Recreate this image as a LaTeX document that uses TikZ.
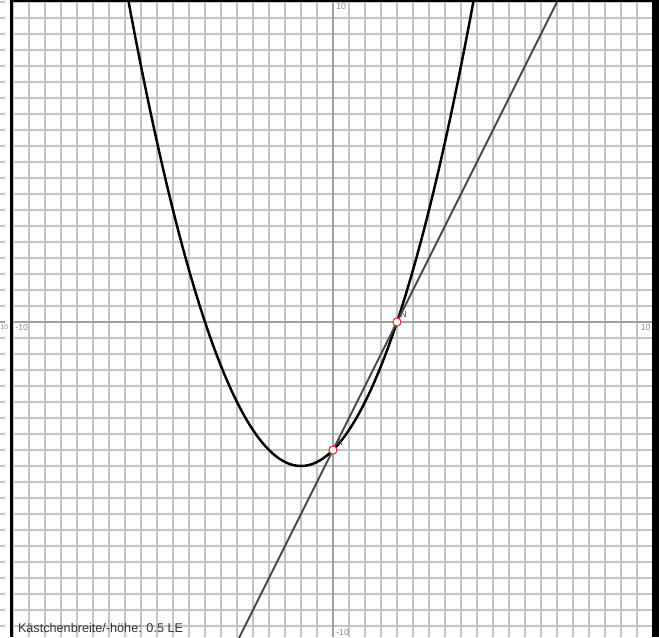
\documentclass[tikz,border=0pt]{standalone}
\usepackage{fontspec}
\setmainfont{Liberation Sans}
\usetikzlibrary{calc}
\definecolor{GridLine}{RGB}{196,196,196}
\definecolor{AxisLine}{RGB}{160,160,160}
\definecolor{TickText}{RGB}{140,140,140}
\definecolor{SecLine}{RGB}{70,70,70}
\definecolor{NoteText}{RGB}{50,50,50}
\definecolor{PtLine}{RGB}{228,60,60}
\tikzset{
  gridln/.style={draw=GridLine, line width=1.35pt},
  axisln/.style={draw=AxisLine, line width=1.35pt},
  ticklbl/.style={font=\fontsize{7.5}{8}\selectfont, text=TickText, inner sep=1pt},
  notelbl/.style={font=\fontsize{10.8}{12}\selectfont, text=NoteText, inner sep=0pt},
  parab/.style={line width=2.1pt, black},
  secant/.style={line width=1.6pt, draw=SecLine},
  ptmark/.style={circle, draw=PtLine, fill=white, line width=0.9pt,
    minimum size=6.8pt, inner sep=0pt},
  ptlbl/.style={font=\fontsize{7.5}{8}\selectfont, text=SecLine, inner sep=0pt},
}

\begin{document}
\begin{tikzpicture}[x=0.96cm,y=0.96cm]

\useasboundingbox (-10.406,-9.844) rectangle (10.1875,10.0625);
\fill[white] (-10.406,-9.844) rectangle (10.1875,10.0625);

%% grid
\foreach \g in {-10,-9.5,...,10}
  {\draw[gridln] (\g,-9.844) -- (\g,10);}
\foreach \g in {-9.5,-9,...,10}
  {\draw[gridln] (-10,\g) -- (9.97,\g);
   \draw[gridln] (-10.406,\g) -- (-10.25,\g);}
\draw[axisln] (0,-9.844) -- (0,10);
\draw[axisln] (-10,0) -- (9.97,0);
\draw[axisln] (-10.406,0) -- (-10.25,0);

%% axis labels
\node[ticklbl, anchor=north west] (yTop) at (0.06,10) {10};
\node[ticklbl, anchor=west]       (yBot) at (0.06,-9.69) {-10};
\node[ticklbl, anchor=north west] (xLft) at (-9.97,-0.03) {-10};
\node[ticklbl, anchor=north east] (xRgt) at (9.97,-0.03) {10};
\node[ticklbl, font=\fontsize{5.8}{6}\selectfont, inner sep=0pt,
  anchor=north west] (xOut) at (-10.395,-0.08) {10};

%% curves
\node[ptmark] (A) at (0,-4) {};
\node[ptmark] (N) at (2,0) {};
\begin{scope}
  \clip (-10,-9.844) rectangle (9.97,10);
  \draw[parab, domain=-6.6:4.6, samples=120, smooth]
    plot (\x, {0.5*\x*\x+\x-4});
  \draw[secant] ($(A)!-1.5!(N)$) -- ($(A)!3.6!(N)$);
\end{scope}
\node[ptmark] at (A) {};
\node[ptmark] at (N) {};
\node[ptlbl, anchor=south west] (Albl) at ($(A)+(0.1,0.12)$) {A};
\node[ptlbl, anchor=south west] (Nlbl) at ($(N)+(0.1,0.12)$) {N};

%% note
\node[notelbl, anchor=west] (note) at (-9.85,-9.56) {Kästchenbreite/-höhe: 0.5 LE};

%% frame
\fill[black] (-10.094,-9.844) rectangle (-10,10.0625);
\fill[black] (-10.094,10) rectangle (10.1875,10.0625);
\fill[black] (9.97,-9.844) rectangle (10.1875,10.0625);

\end{tikzpicture}
\end{document}
